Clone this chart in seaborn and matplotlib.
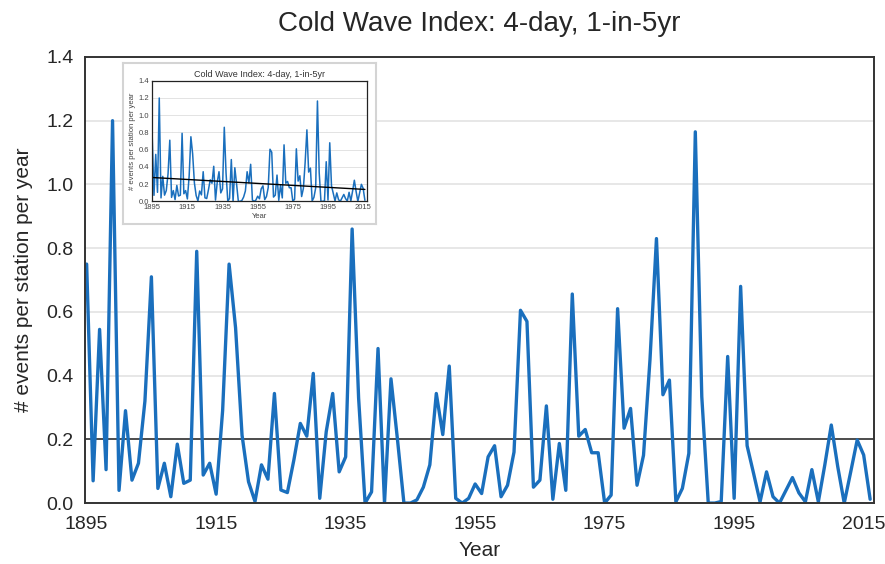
#!/usr/bin/env python3
"""
cold_wave_index.py
Cold Wave Index (4-day, 1-in-5yr) time series with an inset trend panel.
"""

import numpy as np
import pandas as pd
import matplotlib
matplotlib.use("Agg")
import matplotlib.pyplot as plt
import seaborn as sns

# Data: events per station per year, 1895-2016
years = list(range(1895, 2017))
events = [
    0.75, 0.07, 0.545, 0.105, 1.2, 0.04, 0.29, 0.072, 0.125, 0.32,
    0.71, 0.046, 0.125, 0.02, 0.185, 0.062, 0.072, 0.79, 0.088, 0.125,
    0.028, 0.29, 0.75, 0.55, 0.213, 0.067, 0.005, 0.12, 0.075, 0.344,
    0.041, 0.033, 0.135, 0.25, 0.21, 0.407, 0.015, 0.224, 0.344, 0.098,
    0.145, 0.86, 0.33, 0.0, 0.035, 0.485, 0.0, 0.39, 0.2, 0.0,
    0.0, 0.01, 0.05, 0.12, 0.344, 0.215, 0.43, 0.015, 0.0, 0.015,
    0.06, 0.03, 0.145, 0.18, 0.02, 0.056, 0.16, 0.605, 0.57, 0.05,
    0.072, 0.305, 0.012, 0.187, 0.04, 0.656, 0.21, 0.231, 0.158, 0.158,
    0.0, 0.025, 0.61, 0.235, 0.297, 0.056, 0.15, 0.45, 0.83, 0.34,
    0.386, 0.004, 0.046, 0.156, 1.165, 0.334, 0.0, 0.0, 0.005, 0.46,
    0.015, 0.68, 0.18, 0.093, 0.004, 0.098, 0.02, 0.0, 0.04, 0.08,
    0.032, 0.004, 0.105, 0.004, 0.12, 0.245, 0.114, 0.0, 0.098, 0.198,
    0.151, 0.012,
]
threshold = 0.2
title = "Cold Wave Index: 4-day, 1-in-5yr"

df = pd.DataFrame({"Year": years, "Events": events})

sns.set_style("white")
plt.rcParams["font.family"] = ["Liberation Sans", "DejaVu Sans"]

LINE = "#1a6fbd"
SPINE = "#333333"
GRID = "#e3e3e3"

fig = plt.figure(figsize=(8.85, 5.64), dpi=100)
ax = fig.add_axes([0.096, 0.108, 0.8916, 0.791])

sns.lineplot(data=df, x="Year", y="Events", ax=ax, color=LINE, linewidth=2.4)
ax.axhline(threshold, color="#222222", linewidth=1.1, zorder=1)

ax.set_xlim(1894.74, 2016.6)
ax.set_ylim(0, 1.4)
ax.set_xticks(range(1895, 2016, 20))
ax.set_xticks(range(1895, 2016, 5), minor=True)
ax.set_yticks(np.arange(0, 1.41, 0.2))
ax.set_yticklabels([f"{v:.1f}" for v in np.arange(0, 1.41, 0.2)])
ax.tick_params(axis="x", which="both", direction="in", length=5, width=1.2,
               color=SPINE, labelsize=14, pad=9)
ax.tick_params(axis="y", length=0, labelsize=14, pad=8)
ax.yaxis.grid(True, color=GRID, linewidth=1.2)
ax.set_axisbelow(True)
for s in ax.spines.values():
    s.set_color(SPINE)
    s.set_linewidth(1.4)
ax.set_xlabel("Year", fontsize=15, labelpad=6)
ax.set_ylabel("# events per station per year", fontsize=15, labelpad=10)
ax.set_title(title, fontsize=20, pad=19)

# Inset: frame box
box = fig.add_axes([0.139, 0.603, 0.286, 0.2855])
box.set_xticks([])
box.set_yticks([])
box.set_facecolor("white")
for s in box.spines.values():
    s.set_color("#d4d4d4")
    s.set_linewidth(1.5)

# Inset: panel with linear trend
ins = fig.add_axes([0.172, 0.643, 0.2423, 0.2138])
sns.lineplot(data=df, x="Year", y="Events", ax=ins, color=LINE, linewidth=1.1)
slope, icpt = np.polyfit(df["Year"], df["Events"], 1)
trend_x = np.array([years[0], years[-1]])
ins.plot(trend_x, slope * trend_x + icpt, color="black", linewidth=1.0)
ins.set_xlim(1895, 2017)
ins.set_ylim(0, 1.4)
ins.set_xticks(range(1895, 2016, 20))
ins.set_xticks(range(1895, 2016, 5), minor=True)
ins.set_yticks(np.arange(0, 1.41, 0.2))
ins.set_yticklabels([f"{v:.1f}" for v in np.arange(0, 1.41, 0.2)])
ins.tick_params(axis="x", which="both", direction="in", length=2, width=0.6,
                labelsize=5.5, pad=2)
ins.tick_params(axis="y", length=0, labelsize=5.5, pad=2, colors="#444444")
ins.tick_params(axis="x", colors="#444444")
ins.yaxis.grid(True, color=GRID, linewidth=0.7)
ins.set_axisbelow(True)
for s in ins.spines.values():
    s.set_color("#222222")
    s.set_linewidth(0.9)
ins.set_xlabel("Year", fontsize=5.5, labelpad=1, color="#444444")
ins.set_ylabel("# events per station per year", fontsize=5.5, labelpad=2,
               color="#444444")
ins.set_title(title, fontsize=6.5, pad=3, color="#333333")

fig.savefig("out.png", dpi=100)
plt.close(fig)
print("[OK] Saved out.png")
